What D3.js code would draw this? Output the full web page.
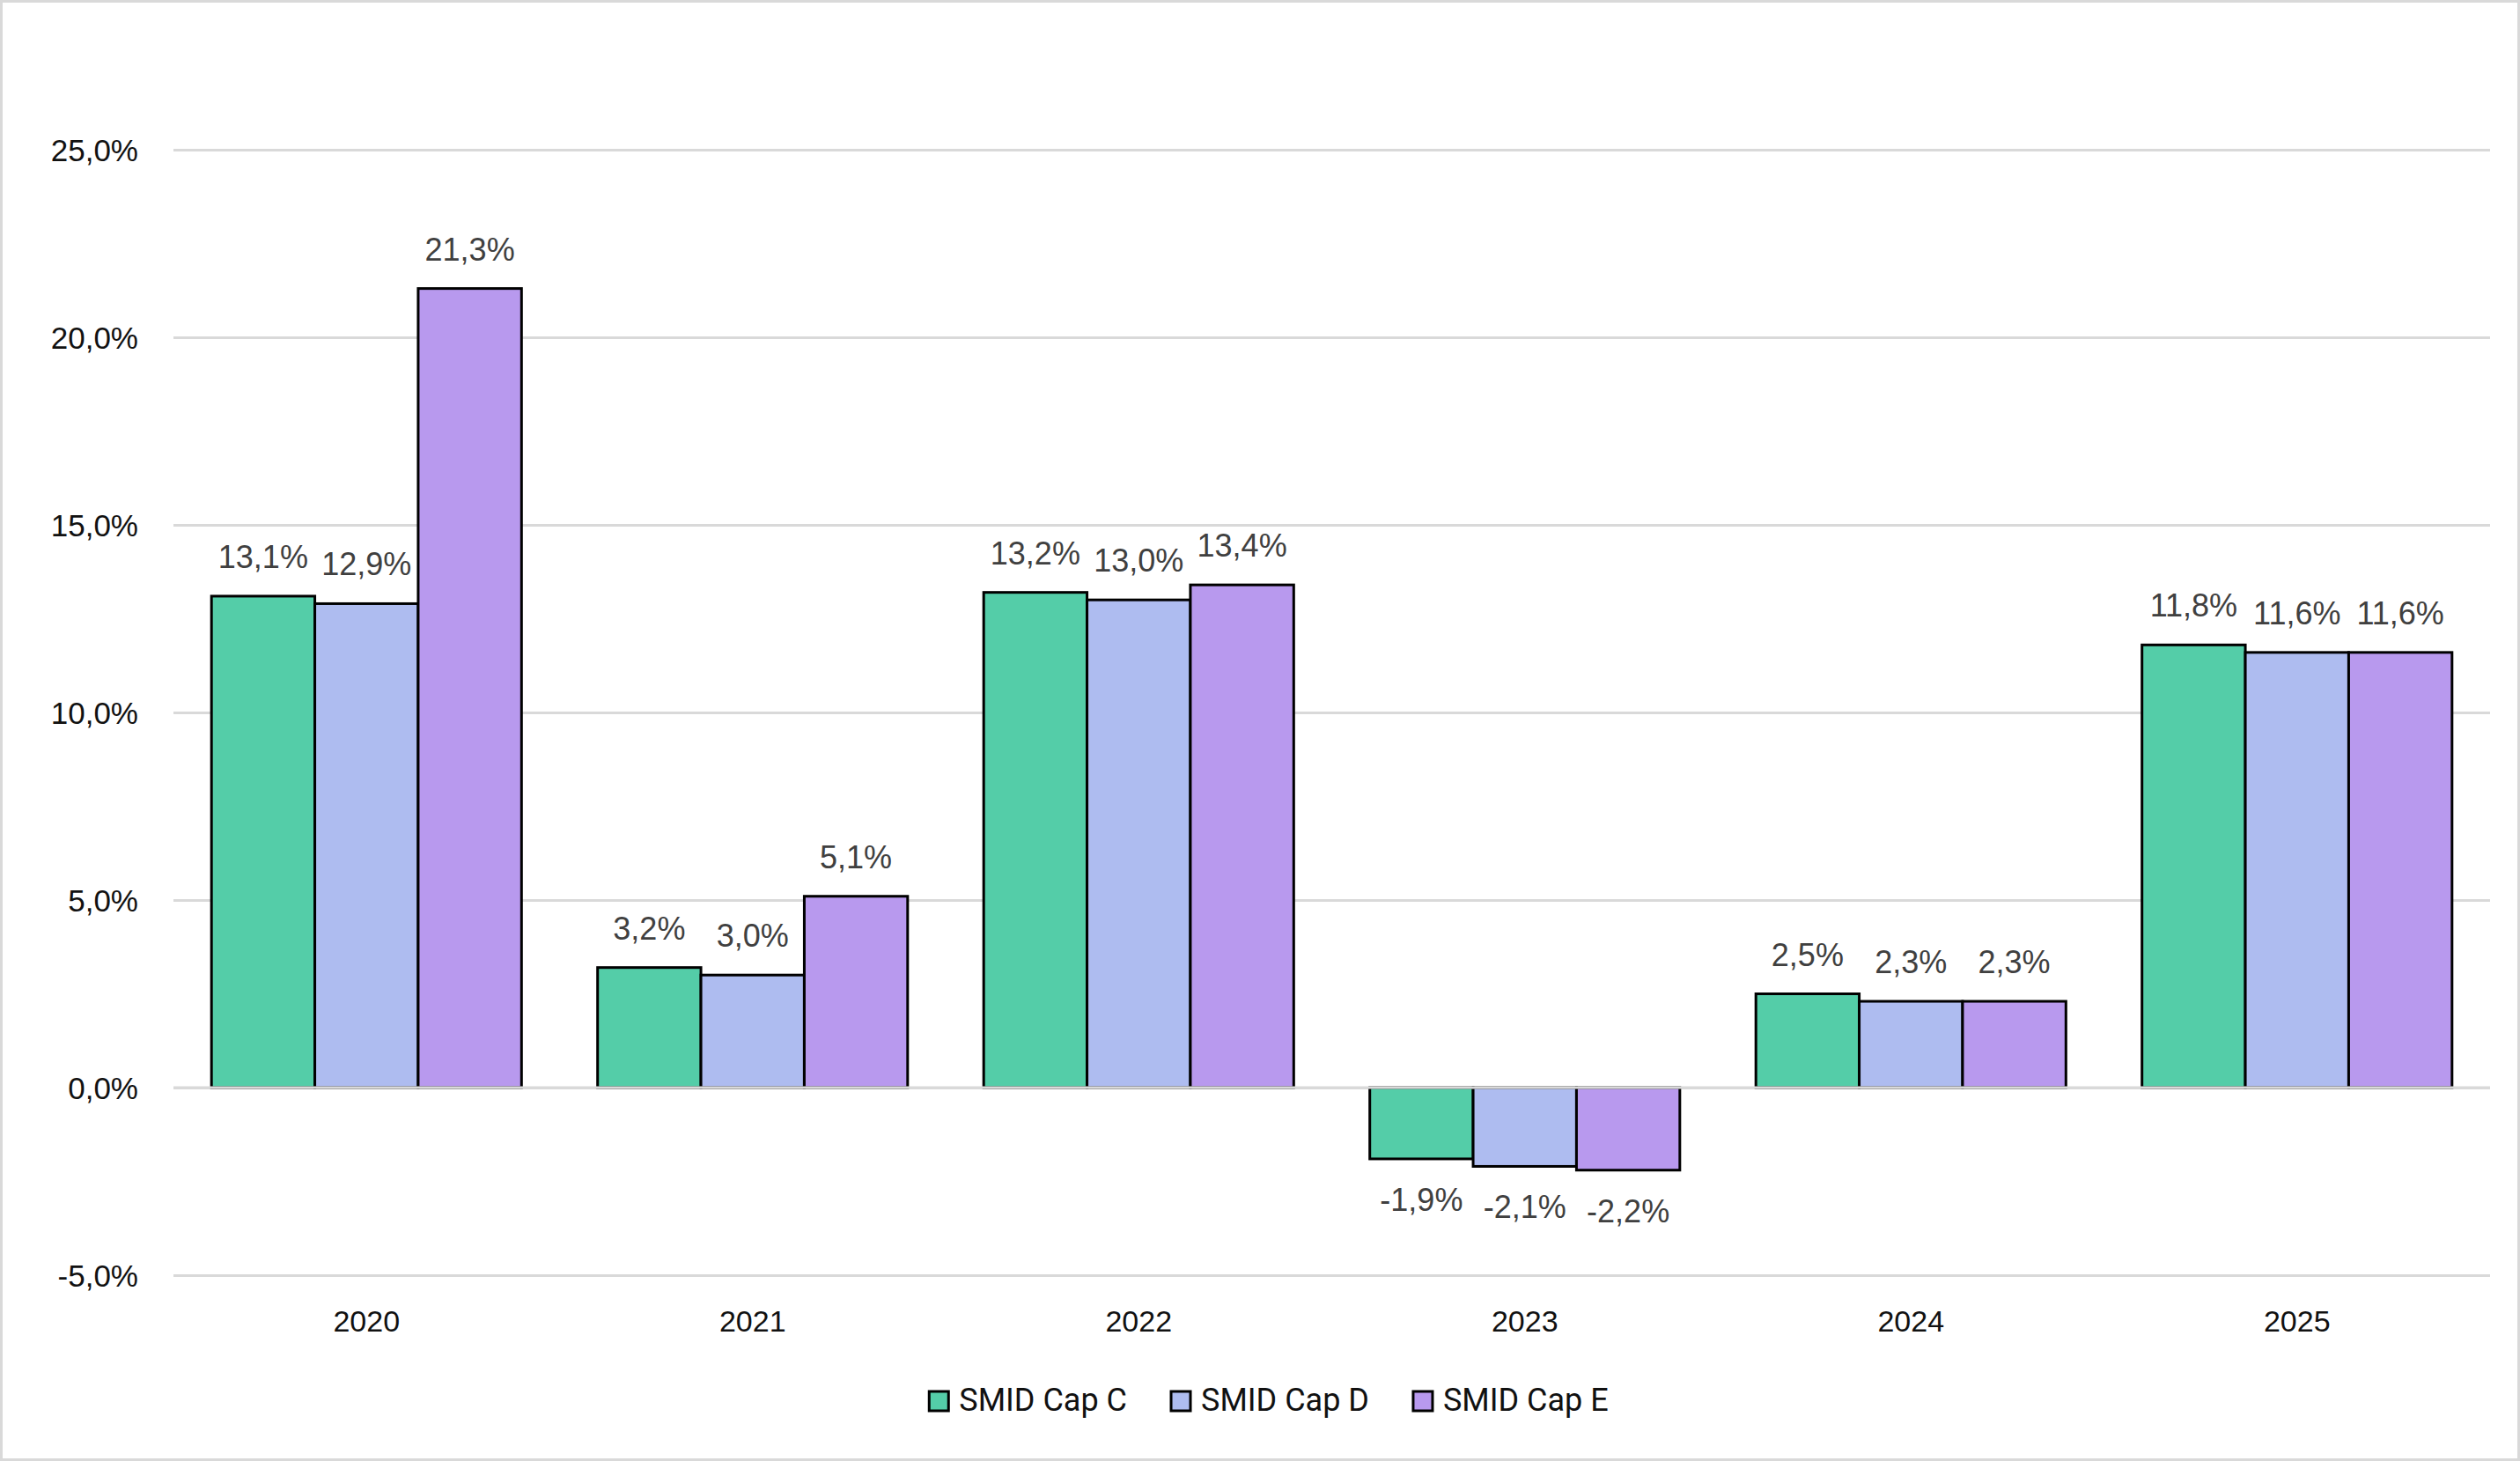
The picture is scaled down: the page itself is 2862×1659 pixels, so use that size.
<!DOCTYPE html>
<html>
<head>
<meta charset="utf-8">
<script src="https://cdn.jsdelivr.net/npm/d3@7"></script>
<style>
  body { margin: 0; background: #fff; }
  svg { display: block; }
</style>
</head>
<body>
<svg id="chart" width="2862" height="1659"></svg>
<script>
const years = ["2020", "2021", "2022", "2023", "2024", "2025"];
const seriesNames = ["SMID Cap C", "SMID Cap D", "SMID Cap E"];
const capC = [13.1, 3.2, 13.2, -1.9, 2.5, 11.8];
const capD = [12.9, 3.0, 13.0, -2.1, 2.3, 11.6];
const capE = [21.3, 5.1, 13.4, -2.2, 2.3, 11.6];
const yTicks = [-5, 0, 5, 10, 15, 20, 25];
const colors = ["#54cda8", "#aebcf0", "#b899ee"];

const seriesValues = [capC, capD, capE];

const width = 2862, height = 1659;
const svg = d3.select("#chart");

const locale = d3.formatLocale({ decimal: ",", thousands: ".", grouping: [3], currency: ["", "€"], minus: "-" });
const fmt = locale.format(".1f");

// frame
svg.append("rect")
   .attr("x", 1.5).attr("y", 1.5)
   .attr("width", width - 3).attr("height", height - 3)
   .attr("fill", "#fff")
   .attr("stroke", "#d9d9d9")
   .attr("stroke-width", 3);

const plotLeft = 197, plotRight = 2828;

let x = d3.scaleBand()
          .domain(years)
          .range([plotLeft, plotRight])
          .paddingInner(0.197)
          .paddingOuter(0.0985);

let xSub = d3.scaleBand()
             .domain(seriesNames)
             .range([0, x.bandwidth()]);

let y = d3.scaleLinear()
          .domain([-5, 25])
          .range([1448, 170]);

// gridlines + y labels
let yAxis = d3.axisLeft(y)
              .tickValues(yTicks)
              .tickSize(-(plotRight - plotLeft))
              .tickPadding(40)
              .tickFormat((d) => fmt(d) + "%");

let yG = svg.append("g")
            .attr("transform", `translate(${plotLeft},0)`)
            .call(yAxis);
yG.select(".domain").remove();
yG.selectAll(".tick line")
  .attr("stroke", "#d9d9d9")
  .attr("stroke-width", 3);
yG.selectAll(".tick text")
  .attr("font-family", "'Liberation Sans', Arial, sans-serif")
  .attr("font-size", 35)
  .attr("fill", "#111")
  .attr("dy", "0.36em");

// bars
let rows = [];
years.forEach((yr, i) => {
  seriesNames.forEach((s, j) => {
    rows.push({ year: yr, series: s, value: seriesValues[j][i], color: colors[j] });
  });
});

let group = svg.append("g");

group.selectAll("rect")
     .data(rows)
     .enter()
     .append("rect")
     .attr("x", (d) => x(d.year) + xSub(d.series))
     .attr("y", (d) => y(Math.max(0, d.value)))
     .attr("width", xSub.bandwidth())
     .attr("height", (d) => Math.abs(y(d.value) - y(0)))
     .attr("fill", (d) => d.color)
     .attr("stroke", "#000")
     .attr("stroke-width", 3);

// zero line drawn over bar bottoms
svg.append("line")
   .attr("x1", plotLeft).attr("x2", plotRight)
   .attr("y1", y(0)).attr("y2", y(0))
   .attr("stroke", "#d9d9d9")
   .attr("stroke-width", 3);

// value labels
group.selectAll("text")
     .data(rows)
     .enter()
     .append("text")
     .attr("x", (d) => x(d.year) + xSub(d.series) + xSub.bandwidth() / 2)
     .attr("y", (d) => d.value >= 0 ? y(d.value) - 32 : y(d.value) + 59)
     .attr("text-anchor", "middle")
     .attr("font-family", "'Liberation Sans', Arial, sans-serif")
     .attr("font-size", 36)
     .attr("fill", "#404040")
     .text((d) => fmt(d.value) + "%");

// x axis labels
svg.append("g")
   .selectAll("text")
   .data(years)
   .enter()
   .append("text")
   .attr("x", (d) => x(d) + x.bandwidth() / 2)
   .attr("y", 1512)
   .attr("text-anchor", "middle")
   .attr("font-family", "'Liberation Sans', Arial, sans-serif")
   .attr("font-size", 34)
   .attr("fill", "#111")
   .text((d) => d);

// legend
let legend = svg.append("g");
let items = legend.selectAll("g")
                  .data(seriesNames)
                  .enter()
                  .append("g");

items.append("rect")
     .attr("width", 22).attr("height", 22)
     .attr("y", 1580)
     .attr("fill", (d, i) => colors[i])
     .attr("stroke", "#000")
     .attr("stroke-width", 3);

items.append("text")
     .attr("x", 34)
     .attr("y", 1602)
     .attr("font-family", "Roboto, 'Noto Sans', sans-serif")
     .attr("font-size", 36)
     .attr("fill", "#111")
     .text((d) => d);

const gap = 50;
let offsets = [];
let cursor = 0;
items.each(function () {
  offsets.push(cursor);
  cursor += this.getBBox().width + gap;
});
let totalW = cursor - gap;
let startX = 1441 - totalW / 2;
items.attr("transform", (d, i) => `translate(${startX + offsets[i]},0)`);
</script>
</body>
</html>
